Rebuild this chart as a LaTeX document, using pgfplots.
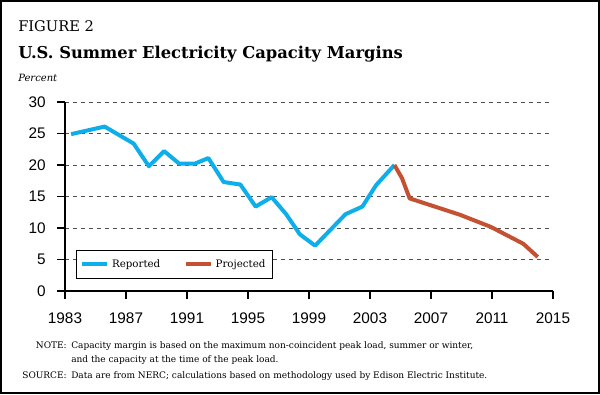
\documentclass[border=0pt]{standalone}
\usepackage{fontspec}
\setmainfont{DejaVu Serif}
\newfontfamily\ticksf{Liberation Sans}
\usepackage{pgfplots}
\pgfplotsset{compat=1.18}
\definecolor{repblue}{RGB}{14,174,234}
\definecolor{projred}{RGB}{196,82,50}
\definecolor{gridgray}{RGB}{80,80,80}
\begin{document}
\begin{tikzpicture}[x=0.75pt,y=0.75pt]
\useasboundingbox (0,0) rectangle (600,394);
\draw[line width=1.5pt] (1,1) rectangle (599,393);
\node[anchor=base west,inner sep=0pt,font=\fontsize{11}{13}\selectfont] at (18,363) {FIGURE 2};
\node[anchor=base west,inner sep=0pt,font=\fontsize{12.25}{14}\selectfont\bfseries] at (18,336) {U.S. Summer Electricity Capacity Margins};
\node[anchor=base west,inner sep=0pt,font=\fontsize{7.5}{9}\selectfont\itshape] at (18,313) {Percent};
\begin{axis}[
  at={(48.75pt,77.25pt)}, anchor=south west,
  scale only axis, width=366pt, height=141.75pt,
  xmin=1983, xmax=2015, ymin=0, ymax=30,
  xtick={1983,1987,...,2015}, ytick={0,5,...,30},
  axis x line*=bottom, axis y line*=left,
  axis line style={-, line width=0.9pt},
  tick align=outside, major tick length=6pt,
  tick style={black, line width=0.9pt},
  ymajorgrids, major grid style={dashed, gridgray, line width=0.6pt},
  tick label style={font=\fontsize{11.5}{13}\ticksf},
  xticklabel style={yshift=-7pt},
  yticklabel style={xshift=-5pt},
  /pgf/number format/assume math mode=true,
  /pgf/number format/1000 sep={},
  legend columns=2,
  legend style={at={(0.0225,0.0635)}, anchor=south west, draw=black, line width=0.6pt,
    font=\fontsize{7.7}{9}\selectfont, inner xsep=3pt, inner ysep=5pt,
    /tikz/every even column/.append style={column sep=15.75pt}},
  legend image code/.code={\draw[#1,line width=3pt] (0pt,0pt) -- (18.75pt,0pt);},
]
\addplot[repblue, line width=3pt, line join=round] coordinates {
(1983.4,24.9) (1985.6,26.1) (1987.5,23.4) (1988.5,19.8) (1989.5,22.2)
(1990.5,20.2) (1991.5,20.2) (1992.4,21.1) (1993.4,17.3) (1994.5,16.9)
(1995.5,13.4) (1996.55,14.9) (1997.5,12.2) (1998.4,9.0) (1999.4,7.2)
(2001.4,12.2) (2002.5,13.4) (2003.4,16.8) (2004.6,20.0)
};
\addlegendentry{Reported}
\addplot[projred, line width=3pt, line join=round] coordinates {
(2004.6,20.0) (2005.1,17.9) (2005.6,14.7) (2008.9,12.1) (2010.9,10.2)
(2013.05,7.5) (2014.0,5.4)
};
\addlegendentry{Projected}
\end{axis}
\begin{scope}[every node/.style={inner sep=0pt,font=\fontsize{6.75}{8}\selectfont}]
\node[anchor=base east] at (67,46) {NOTE:};
\node[anchor=base west] at (71,46) {Capacity margin is based on the maximum non-coincident peak load, summer or winter,};
\node[anchor=base west] at (71,32) {and the capacity at the time of the peak load.};
\node[anchor=base east] at (67,16) {SOURCE:};
\node[anchor=base west] at (71,16) {Data are from NERC; calculations based on methodology used by Edison Electric Institute.};
\end{scope}
\end{tikzpicture}
\end{document}
